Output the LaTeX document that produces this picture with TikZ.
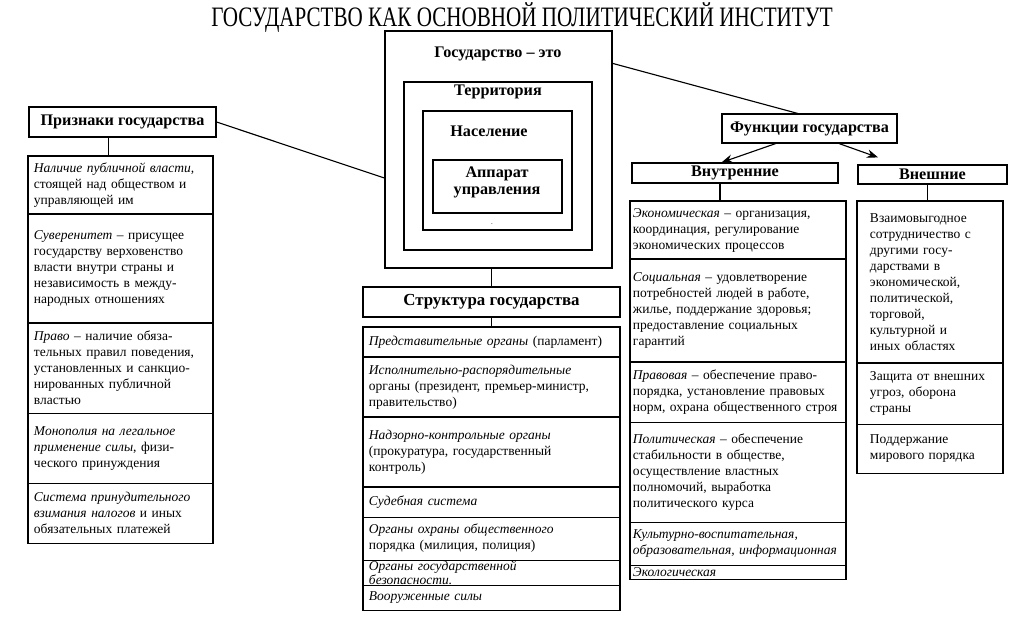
\documentclass[tikz,border=0pt]{standalone}
\usepackage{fontspec}
\setmainfont{Liberation Serif}
\usepackage{graphicx}
\usetikzlibrary{positioning,arrows.meta}

\newcommand{\bodyfont}{\fontsize{9.6}{11.4}\selectfont}
\newcommand{\hdfont}{\fontsize{11.5}{13}\selectfont\bfseries}

\begin{document}
\begin{tikzpicture}[x=0.025cm, y=-0.025cm, line width=0.8pt, node distance=0pt,
  head/.style={draw, font=\hdfont, inner sep=0pt},
  frame/.style={draw, line width=1pt, inner sep=0pt},
  row/.style={draw, anchor=north, align=left, font=\bodyfont, inner ysep=1pt, outer sep=0pt},
  lrow/.style={row, text width=4.325cm, inner xsep=0.15cm},
  srow/.style={row, text width=6.125cm, inner xsep=0.15cm},
  irow/.style={row, text width=5.25cm, inner xsep=0.075cm},
  orow/.style={row, text width=3.0cm, inner xsep=0.325cm},
  rh/.style={minimum height=#1cm},
  arr/.style={-{Stealth[length=8pt,width=6pt]}}]
  \useasboundingbox (0,0) rectangle (1024,621);

  % title
  \node[font=\fontsize{20}{24}\selectfont] (title) at (522,18) {\scalebox{0.75}[1]{ГОСУДАРСТВО КАК ОСНОВНОЙ ПОЛИТИЧЕСКИЙ ИНСТИТУТ}};

  % nested boxes in the middle
  \node[frame, minimum width=5.675cm, minimum height=5.925cm] (gos) at (498.5,149.5) {};
  \node[frame, minimum width=4.7cm, minimum height=4.2cm] (terr) at (498,166) {};
  \node[frame, minimum width=3.725cm, minimum height=2.975cm] (nas) at (497.5,170.5) {};
  \node[frame, minimum width=3.225cm, minimum height=1.325cm] (app) at (497.5,186.5) {};
  \node[font=\hdfont] (gost) at (498,54) {Государство – это};
  \node[font=\hdfont] (terrt) at (498,92) {Территория};
  \node[font=\hdfont] (nast) at (489,131) {Население};
  \node[font=\hdfont, align=center] (appt) at (497,182) {Аппарат\\[-1pt]управления};
  \node[font=\tiny] (pt) at (492,224) {.};

  % left: Priznaki
  \node[head, minimum width=4.675cm, minimum height=0.75cm] (priz) at (122.5,122) {Признаки государства};
  \node[lrow, rh=1.45] (l1) at (120.5,156) {\textit{Наличие публичной власти,}\\ стоящей над обществом и\\ управляющей им};
  \node[lrow, rh=2.725, below=of l1] (l2) {\textit{Суверенитет} – присущее\\ государству верховенство\\ власти внутри страны и\\ независимость в между-\\ народных отношениях};
  \node[lrow, rh=2.25, below=of l2] (l3) {\textit{Право} – наличие обяза-\\ тельных правил поведения,\\ установленных и санкцио-\\ нированных публичной\\ властью};
  \node[lrow, rh=1.75, below=of l3] (l4) {\textit{Монополия на легальное}\\ \textit{применение силы}, физи-\\ ческого принуждения};
  \node[lrow, rh=1.5, below=of l4] (l5) {\textit{Система принудительного}\\ \textit{взимания налогов} и иных\\ обязательных платежей};

  % middle: Struktura
  \node[head, font=\fontsize{12}{14}\selectfont\bfseries, minimum width=6.425cm, minimum height=0.75cm] (str) at (491.5,302) {Структура государства};
  \node[srow, rh=0.75] (s1) at (491.5,327) {\textit{Представительные~органы}~(парламент)};
  \node[srow, rh=1.5, below=of s1] (s2) {\textit{Исполнительно-распорядительные}\\ органы (президент, премьер-министр,\\ правительство)};
  \node[srow, rh=1.75, below=of s2] (s3) {\textit{Надзорно-контрольные органы}\\ (прокуратура, государственный\\ контроль)};
  \node[srow, rh=0.75, below=of s3] (s4) {\textit{Судебная система}};
  \node[srow, rh=1.075, below=of s4] (s5) {\textit{Органы охраны общественного}\\ порядка (милиция, полиция)};
  \node[srow, rh=0.625, inner ysep=0pt, font=\fontsize{9.6}{8.5}\selectfont, below=of s5] (s6) {\textit{Органы государственной}\\ \textit{безопасности.}};
  \node[srow, rh=0.625, below=of s6] (s7) {\textit{Вооруженные силы}};

  % right: Funkcii
  \node[head, minimum width=4.375cm, minimum height=0.725cm] (fun) at (809.5,128.5) {Функции государства};
  \node[head, minimum width=5.15cm, minimum height=0.5cm] (vnut) at (735,173) {Внутренние};
  \node[head, minimum width=3.725cm, minimum height=0.475cm] (vnesh) at (932.5,174.5) {Внешние};

  \node[irow, rh=1.45] (i1) at (738,201) {\textit{Экономическая} – организация,\\ координация, регулирование\\ экономических процессов};
  \node[irow, rh=2.575, below=of i1] (i2) {\textit{Социальная} – удовлетворение\\ потребностей людей в работе,\\ жилье, поддержание здоровья;\\ предоставление социальных\\ гарантий};
  \node[irow, rh=1.5, below=of i2] (i3) {\textit{Правовая} – обеспечение право-\\ порядка, установление правовых\\ норм,~охрана~общественного~строя};
  \node[irow, rh=2.5, below=of i3] (i4) {\textit{Политическая} – обеспечение\\ стабильности в обществе,\\ осуществление властных\\ полномочий, выработка\\ политического курса};
  \node[irow, rh=1.075, below=of i4] (i5) {\textit{Культурно-воспитательная,}\\ \textit{образовательная,~информационная}};
  \node[irow, rh=0.35, inner ysep=0pt, below=of i5] (i6) {\textit{Экологическая}};

  \node[orow, rh=4.05] (o1) at (930,201) {Взаимовыгодное\\ сотрудничество~с\\ другими госу-\\ дарствами в\\ экономической,\\ политической,\\ торговой,\\ культурной и\\ иных областях};
  \node[orow, rh=1.525, below=of o1] (o2) {Защита~от~внешних\\ угроз, оборона\\ страны};
  \node[orow, rh=1.225, below=of o2] (o3) {Поддержание\\ мирового порядка};

  % connectors
  \draw (priz.east) -- (gos.194);
  \draw (gos.37) -- (fun.128);
  \draw ([xshift=-0.35cm]priz.south) -- ([xshift=-0.35cm]priz.south |- l1.north);
  \draw (gos.south -| str.north) -- (str.north);
  \draw (str.south) -- (s1.north);
  \draw ([xshift=-0.375cm]vnut.south) -- ([xshift=-0.375cm]vnut.south |- i1.north);
  \draw ([xshift=-0.125cm]vnesh.south) -- ([xshift=-0.125cm]vnesh.south |- o1.north);
  \draw[arr] (fun.204) -- (vnut.142);
  \draw[arr] (fun.333) -- ([xshift=-1.36cm, yshift=0.175cm]vnesh.north);
\end{tikzpicture}
\end{document}
